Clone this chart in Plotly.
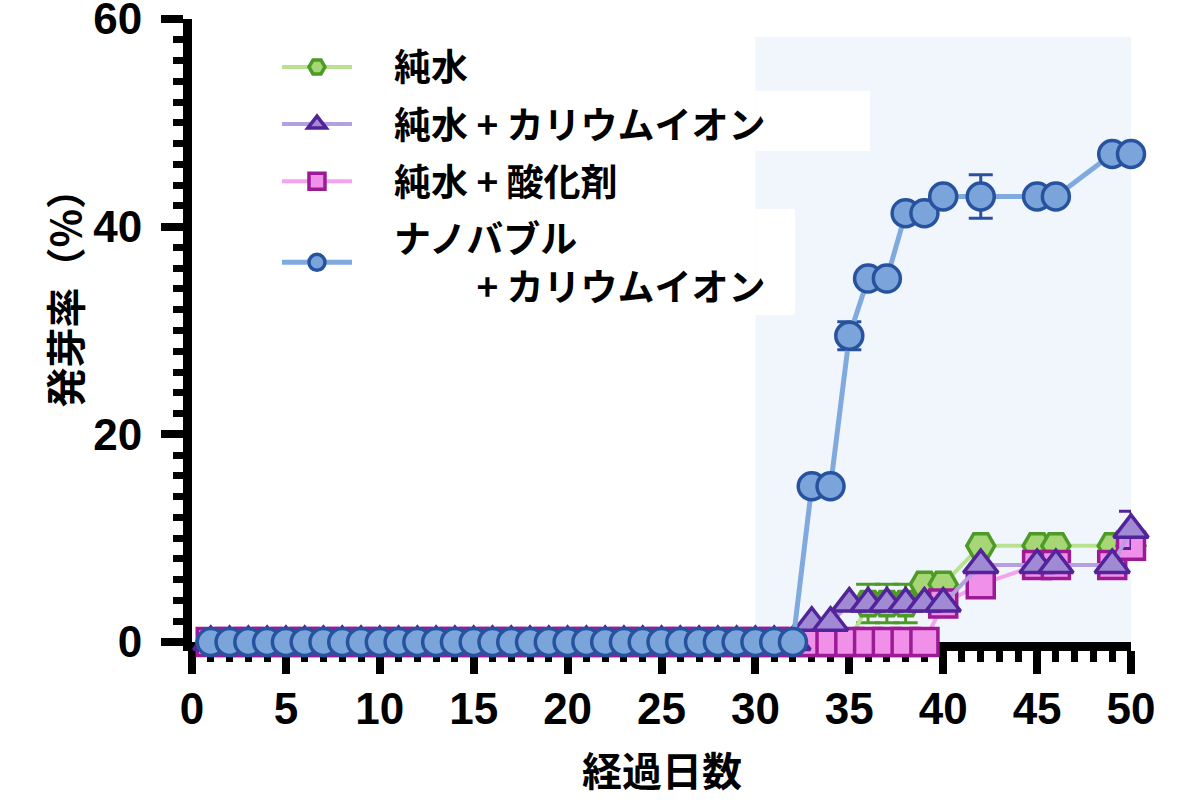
import plotly.graph_objects as go

# days measured (daily to day 40, then spot checks)
days = list(range(1, 41)) + [42, 45, 46, 49, 50]

# germination rate (%) per group
water = [0] * 35 + [3.7, 3.7, 3.7, 5.56, 5.56, 9.26, 9.26, 9.26, 9.26, 9.26]
water_err = [0] * 35 + [1.85, 1.85, 1.85, 0, 0, 0, 0, 0, 0, 0]

water_k = [0] * 32 + [1.85, 1.85, 3.7, 3.7, 3.7, 3.7, 3.7, 3.7, 7.41, 7.41, 7.41, 7.41, 10.8]
water_k_err = [0] * 44 + [1.8]

water_ox = [0] * 39 + [3.7, 5.56, 7.41, 7.41, 7.41, 9.26]

nano_k = [0] * 32 + [15.0, 15.0, 29.5, 35.0, 35.0, 41.3, 41.3, 42.9, 42.9, 42.9, 42.9, 47.0, 47.0]
nano_k_err = [0] * 34 + [1.35, 0, 0, 0, 0, 0, 2.1, 0, 0, 0, 0]

x_ticks = [0, 5, 10, 15, 20, 25, 30, 35, 40, 45, 50]
y_ticks = [0, 20, 40, 60]

JP = "Noto Sans CJK JP"
NUM = "Liberation Sans"
SP = "\u3000"  # ideographic space, keeps the legend text off the symbols


def series(name, y, err, symbol, size, fill, edge, line, rank, lw=4):
    return go.Scatter(
        x=days, y=y, name=name, mode="lines+markers",
        line=dict(color=line, width=lw),
        marker=dict(symbol=symbol, size=size, color=fill,
                    line=dict(color=edge, width=3.5)),
        error_y=dict(type="data", array=err, visible=err is not None,
                     color=edge, thickness=3, width=12),
        cliponaxis=False, legendrank=rank, legendgroup=str(rank),
    )


fig = go.Figure()
# drawing order: green at bottom, blue on top
fig.add_trace(series(SP + "純水", water, water_err, "hexagon2", 28,
                     "#a6d676", "#4e9a27", "#b8e292", 1))
fig.add_trace(series(SP + "純水 + 酸化剤", water_ox, None, "square", 27,
                     "#f090e8", "#9c1a96", "#f4a4ee", 3))
fig.add_trace(series(SP + "純水 + カリウムイオン", water_k, water_k_err, "triangle-up", 30,
                     "#a08ad4", "#53239a", "#b4a0e0", 2))
fig.add_trace(series(SP + "ナノバブル<br>" + SP * 3 + " + カリウムイオン", nano_k, nano_k_err,
                     "circle", 27, "#7ba4db", "#27539e", "#80a9de", 4, lw=5))

fig.update_layout(
    width=1200, height=800,
    margin=dict(l=192, r=69, t=19, b=158, autoexpand=False),
    plot_bgcolor="white", paper_bgcolor="white",
    showlegend=True,
    legend=dict(
        x=0.0905, y=0.972, xanchor="left", yanchor="top",
        bgcolor="rgba(0,0,0,0)", itemwidth=70,
        traceorder="grouped", tracegroupgap=6,
        font=dict(family=JP, size=37, color="black", weight="bold"),
    ),
    shapes=[
        dict(type="rect", xref="x", yref="y", x0=30, x1=50, y0=0, y1=58.3,
             fillcolor="#f0f6fc", line=dict(width=0), layer="below"),
        dict(type="rect", xref="x", yref="y", x0=30, x1=36.1, y0=47.3, y1=53.1,
             fillcolor="white", line=dict(width=0), layer="below"),
        dict(type="rect", xref="x", yref="y", x0=30, x1=32.1, y0=31.5, y1=41.7,
             fillcolor="white", line=dict(width=0), layer="below"),
    ],
    annotations=[
        dict(text="経過日数", xref="paper", yref="paper", x=0.5, y=-0.204,
             xanchor="center", yanchor="middle", showarrow=False,
             font=dict(family=JP, size=40, color="black", weight="bold")),
        dict(text="発芽率（%）", xref="paper", yref="paper", x=-0.136, y=0.568,
             xanchor="center", yanchor="middle", showarrow=False, textangle=-90,
             font=dict(family=JP, size=40, color="black", weight="bold")),
    ],
)

fig.update_xaxes(
    range=[0, 50], tickvals=x_ticks, showgrid=False, zeroline=False,
    showline=True, linecolor="black", linewidth=9, layer="below traces",
    ticks="outside", ticklen=23, tickwidth=8, tickcolor="black",
    ticklabelstandoff=-3, automargin=False,
    minor=dict(dtick=1, ticks="outside", ticklen=11, tickwidth=7, tickcolor="black"),
    tickfont=dict(family=NUM, size=44, color="black", weight="bold"),
)
fig.update_yaxes(
    range=[0, 60.001], tickvals=y_ticks, showgrid=False, zeroline=False,
    showline=True, linecolor="black", linewidth=9, layer="below traces",
    ticks="outside", ticklen=22, tickwidth=8, tickcolor="black",
    ticklabelstandoff=10, ticklabeloverflow="allow", automargin=False,
    minor=dict(dtick=2, ticks="outside", ticklen=10, tickwidth=7, tickcolor="black"),
    tickfont=dict(family=NUM, size=44, color="black", weight="bold"),
)

# the page has no body margin, so the figure sits flush at the window corner
fig.write_html("out.html", config={"displayModeBar": False},
               post_script="document.body.style.margin = '0';")
